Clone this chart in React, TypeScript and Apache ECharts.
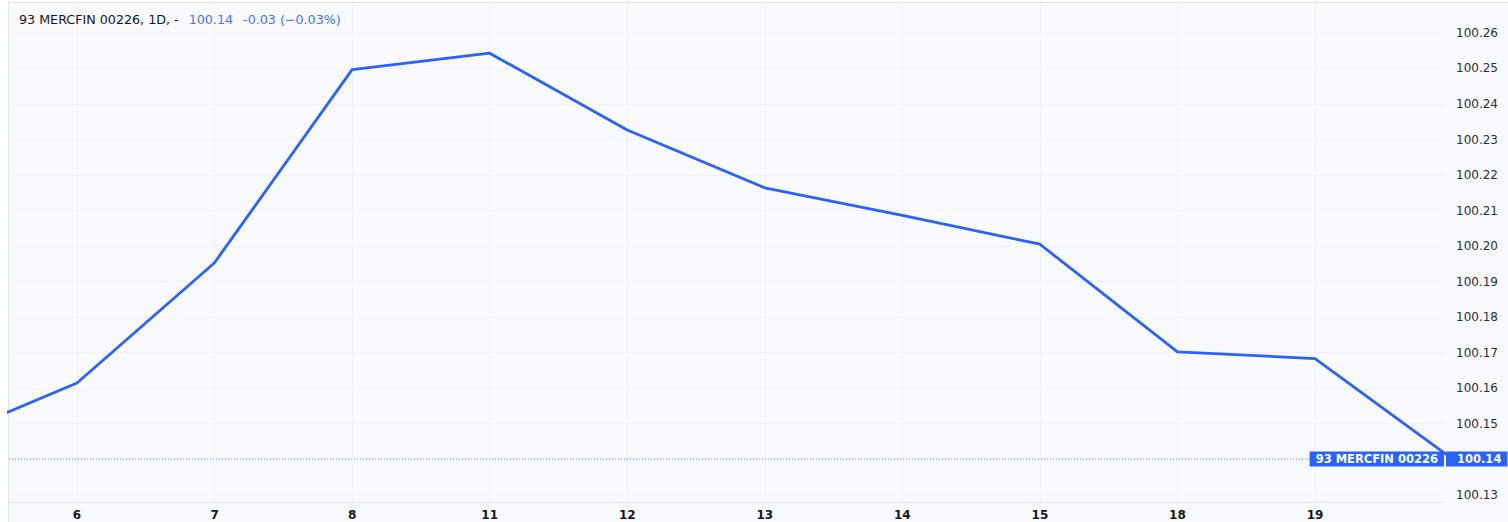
import React, { useEffect, useRef } from "react";
import * as echarts from "echarts";

const seriesName = "93 MERCFIN 00226";
const resolution = "1D";
const days = ["5", "6", "7", "8", "11", "12", "13", "14", "15", "18", "19", "20"];
const prices = [100.1451, 100.1614, 100.1953, 100.2497, 100.2543, 100.2327, 100.2164, 100.2086, 100.2005, 100.1702, 100.1683, 100.14];

const xMin = 0.5057;
const xMax = 10.945;
const yMin = 100.12789;
const yMax = 100.26845;

const FONT = "DejaVu Sans";
const BLUE = "#2962ff";
const TEXT = "#131722";
const GRID = "#eff1f6";

export default function App() {
  const ref = useRef<HTMLDivElement>(null);
  useEffect(() => {
    if (!ref.current) return;
    const chart = echarts.init(ref.current, undefined, { renderer: "svg" });
    const last = prices[prices.length - 1];
    const prev = prices[prices.length - 2];
    const chg = last - prev;
    const pct = (chg / prev) * 100;
    const chgStr = (chg < 0 ? "-" : "+") + Math.abs(chg).toFixed(2);
    const pctStr = (pct < 0 ? "\u2212" : "+") + Math.abs(pct).toFixed(2) + "%";
    const hidden = { color: "rgba(0,0,0,0)", width: 0 };
    const boxLabel = {
      show: true,
      distance: 1,
      color: "#ffffff",
      opacity: 1,
      backgroundColor: BLUE,
      fontFamily: FONT,
      fontSize: 11.5,
      fontWeight: "bold",
      lineHeight: 13,
    };
    chart.setOption({
      animation: false,
      backgroundColor: "transparent",
      title: {
        left: 14,
        top: 5,
        text: `{a|${seriesName}, ${resolution}, -}  {b|${last.toFixed(2)}}  {b|${chgStr} (${pctStr})}`,
        textStyle: {
          fontWeight: "normal",
          rich: {
            a: { fontFamily: FONT, fontSize: 12.7, fontWeight: "normal", color: TEXT },
            b: { fontFamily: FONT, fontSize: 12.7, fontWeight: "normal", color: "#3d73ff" },
          },
        },
      },
      grid: { left: 9, right: 63, top: 3, bottom: 20, containLabel: false },
      xAxis: {
        type: "value",
        min: xMin,
        max: xMax,
        splitNumber: 10,
        axisLine: { show: true, lineStyle: { color: "#e0e3eb", width: 1 } },
        axisTick: { show: false },
        axisLabel: {
          showMinLabel: false,
          showMaxLabel: false,
          margin: 7,
          fontFamily: FONT,
          fontSize: 12,
          fontWeight: "bold",
          color: TEXT,
          formatter: (v: number) => {
            const i = Math.round(v);
            return Math.abs(v - i) < 1e-6 && days[i] !== undefined ? days[i] : "";
          },
        },
        splitLine: { show: true, showMinLine: false, showMaxLine: false, lineStyle: { color: GRID, width: 1 } },
      },
      yAxis: {
        type: "value",
        position: "right",
        min: yMin,
        max: yMax,
        splitNumber: 14,
        axisLine: { show: false },
        axisTick: { show: false },
        axisLabel: {
          showMinLabel: false,
          showMaxLabel: false,
          margin: 11,
          fontFamily: FONT,
          fontSize: 12,
          color: "#2a2e39",
          formatter: (v: number) => (Math.abs(v - last) < 0.004 ? "" : v.toFixed(2)),
        },
        splitLine: { show: true, showMinLine: false, showMaxLine: false, lineStyle: { color: GRID, width: 1 } },
      },
      series: [
        {
          name: "priceLine",
          type: "line",
          data: [
            [xMin, last],
            [xMax, last],
          ],
          symbol: "none",
          silent: true,
          z: 1,
          color: "#5b86ff",
          lineStyle: { color: "#5b86ff", width: 1, type: [1, 2] },
        },
        {
          name: seriesName,
          type: "line",
          data: prices.map((p, i) => [i, p]),
          symbol: "none",
          clip: true,
          z: 3,
          color: BLUE,
          lineStyle: { color: BLUE, width: 2.8 },
          markLine: {
            silent: true,
            symbol: ["none", "none"],
            lineStyle: hidden,
            data: [
              {
                yAxis: last,
                lineStyle: hidden,
                label: {
                  ...boxLabel,
                  position: "end",
                  formatter: () => last.toFixed(2),
                  padding: [1, 6, 1, 11],
                },
              },
              {
                yAxis: last,
                lineStyle: hidden,
                label: {
                  ...boxLabel,
                  position: "insideEnd",
                  formatter: () => seriesName,
                  padding: [1, 6, 1, 6],
                },
              },
            ],
          },
        },
      ],
    });
    return () => chart.dispose();
  }, []);
  return (
    <div style={{ position: "absolute", left: 0, top: 0, width: 1508, height: 522, background: "#ffffff" }}>
      <div
        style={{
          position: "absolute",
          left: 8,
          top: 2,
          right: 0,
          bottom: 0,
          background: "#f9fafe",
          borderLeft: "1px solid #e0e3eb",
          borderTop: "1px solid #e0e3eb",
        }}
      />
      <div ref={ref} style={{ position: "absolute", left: 0, top: 0, width: 1508, height: 522 }} />
    </div>
  );
}
